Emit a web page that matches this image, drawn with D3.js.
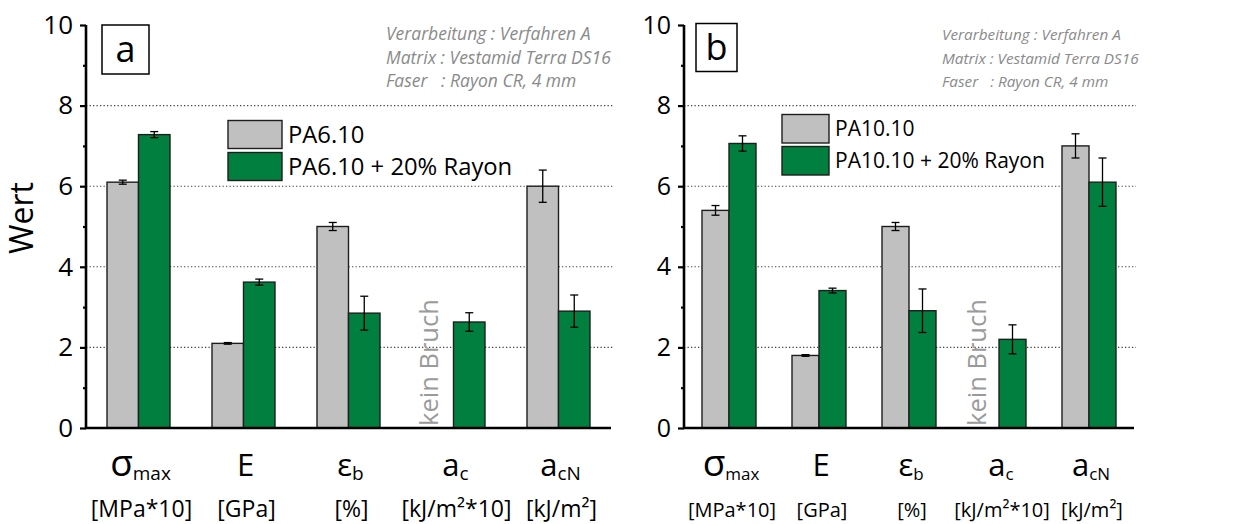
<!DOCTYPE html>
<html>
<head>
<meta charset="utf-8">
<script src="https://cdn.jsdelivr.net/npm/d3@7"></script>
<style>
  html, body { margin: 0; padding: 0; background: #fff; }
  svg { display: block; font-family: "Open Sans", "Noto Sans", sans-serif; }
</style>
</head>
<body>
<svg id="chart" width="1234" height="524"></svg>
<script>
// Property groups along the x axis
const categories = ["sigma", "E", "eps", "ac", "acN"];
const catSymbols = ["σ", "E", "ε", "a", "a"];
const catSubscripts = ["max", "", "b", "c", "cN"];
const catUnits = ["[MPa*10]", "[GPa]", "[%]", "[kJ/m²*10]", "[kJ/m²]"];

// Y ticks
const yMajorTicks = [0, 2, 4, 6, 8, 10];
const yMinorTicks = [1, 3, 5, 7, 9];
const gridTicks = [2, 4, 6, 8];

// Panel a: PA6.10 (null = no break, not measured)
const paA_names = ["PA6.10", "PA6.10 + 20% Rayon"];
const paA_base = [6.1, 2.1, 5.0, null, 6.0];
const paA_baseErr = [0.05, 0.02, 0.1, null, 0.4];
const paA_rayon = [7.28, 3.62, 2.85, 2.63, 2.9];
const paA_rayonErr = [0.075, 0.075, 0.42, 0.23, 0.4];

// Panel b: PA10.10
const paB_names = ["PA10.10", "PA10.10 + 20% Rayon"];
const paB_base = [5.4, 1.8, 5.0, null, 7.0];
const paB_baseErr = [0.12, 0.02, 0.1, null, 0.3];
const paB_rayon = [7.06, 3.41, 2.91, 2.2, 6.1];
const paB_rayonErr = [0.19, 0.06, 0.54, 0.36, 0.6];

const noteLines = ["Verarbeitung : Verfahren A", "Matrix : Vestamid Terra DS16", "Faser   : Rayon CR, 4 mm"];
const noBreakText = "kein Bruch";

const grayFill = "#c0c0c0";
const greenFill = "#007f3e";
const barStroke = "#1e1e1e";

const svg = d3.select("#chart");

const y = d3.scaleLinear().domain([0, 10]).range([428, 25]);

function drawPanel(p) {
  const g = svg.append("g");
  const x = d3.scaleBand().domain(categories).range([p.x0, p.x1]).padding(0);
  const bw = x.bandwidth();
  const f = p.font;

  // dotted grid lines
  g.selectAll(".grid").data(gridTicks).enter().append("line")
    .attr("x1", p.x0).attr("x2", p.x1 + 2)
    .attr("y1", d => y(d)).attr("y2", d => y(d))
    .attr("stroke", "#444").attr("stroke-width", 1.1)
    .attr("stroke-dasharray", "1.3,2.2");

  // bars
  const series = [
    { vals: p.base, errs: p.baseErr, fill: grayFill, off: 0.2 },
    { vals: p.rayon, errs: p.rayonErr, fill: greenFill, off: 0.5 }
  ];
  series.forEach(s => {
    const rows = categories.map((c, i) => ({ c, v: s.vals[i], e: s.errs[i] })).filter(r => r.v != null);
    g.selectAll(null).data(rows).enter().append("rect")
      .attr("x", r => x(r.c) + s.off * bw)
      .attr("width", 0.3 * bw)
      .attr("y", r => y(r.v))
      .attr("height", r => y(0) - y(r.v))
      .attr("fill", s.fill)
      .attr("stroke", barStroke).attr("stroke-width", 1.4);
    // error bars
    const eg = g.selectAll(null).data(rows).enter().append("g")
      .attr("stroke", "#000").attr("stroke-width", 1.3);
    const cx = r => x(r.c) + (s.off + 0.15) * bw;
    eg.append("line").attr("x1", cx).attr("x2", cx)
      .attr("y1", r => y(r.v + r.e)).attr("y2", r => y(r.v - r.e));
    eg.append("line").attr("x1", r => cx(r) - 4).attr("x2", r => cx(r) + 4)
      .attr("y1", r => y(r.v + r.e)).attr("y2", r => y(r.v + r.e));
    eg.append("line").attr("x1", r => cx(r) - 4).attr("x2", r => cx(r) + 4)
      .attr("y1", r => y(r.v - r.e)).attr("y2", r => y(r.v - r.e));
  });

  // "kein Bruch" where the base polymer did not break
  categories.forEach((c, i) => {
    if (p.base[i] == null) {
      const tx = x(c) + 0.35 * bw;
      g.append("text")
        .attr("transform", `translate(${tx},${y(0) - 2}) rotate(-90)`)
        .attr("text-anchor", "start")
        .attr("font-size", 25.5).attr("fill", "#9a9a9a")
        .text(noBreakText);
    }
  });

  // y axis: major ticks with labels, minor ticks without
  const yAxis = d3.axisLeft(y).tickValues(yMajorTicks).tickSize(6).tickPadding(7).tickFormat(d3.format("d"));
  const ya = g.append("g").attr("transform", `translate(${p.x0},0)`).call(yAxis);
  ya.select(".domain").attr("stroke-width", 2.6).attr("d", `M0,${y(10)}V${y(0)}`);
  ya.selectAll(".tick line").attr("stroke-width", 2.2);
  ya.selectAll(".tick text").attr("font-size", f.tick).attr("font-family", "'Open Sans', sans-serif").attr("fill", "#000");
  const yMinor = d3.axisLeft(y).tickValues(yMinorTicks).tickSize(3).tickFormat("");
  const ym = g.append("g").attr("transform", `translate(${p.x0},0)`).call(yMinor);
  ym.select(".domain").remove();
  ym.selectAll(".tick line").attr("stroke-width", 2.2);

  // x axis baseline
  const xAxis = d3.axisBottom(x).tickSize(0).tickFormat("");
  const xa = g.append("g").attr("transform", `translate(0,${y(0)})`).call(xAxis);
  xa.select(".domain").attr("stroke-width", 2.6).attr("d", `M${p.x0 - 1},0H${p.x1}`);

  // category symbols with subscripts, units below
  categories.forEach((c, i) => {
    const cx = x(c) + bw / 2 + 2;
    const t = g.append("text").attr("x", cx).attr("y", 476)
      .attr("text-anchor", "middle").attr("fill", "#000");
    t.append("tspan").attr("font-size", catSymbols[i] === "σ" ? 37 : 31).text(catSymbols[i]);
    if (catSubscripts[i]) {
      t.append("tspan").attr("font-size", f.sub).attr("dy", 4).text(catSubscripts[i]);
    }
    g.append("text").attr("x", cx + 1).attr("y", 517)
      .attr("text-anchor", "middle").attr("font-size", f.unit).attr("fill", "#000")
      .text(catUnits[i]);
  });

  // panel label box
  g.append("rect").attr("x", p.lab.x).attr("y", p.lab.y).attr("width", p.lab.w).attr("height", p.lab.h)
    .attr("fill", "#fff").attr("stroke", "#000").attr("stroke-width", 1.5);
  g.append("text").attr("x", p.lab.x + p.lab.w / 2).attr("y", p.lab.y + p.lab.h / 2 + 12)
    .attr("text-anchor", "middle").attr("font-size", 36).attr("fill", "#000").text(p.lab.text);

  // processing note
  noteLines.forEach((line, i) => {
    g.append("text").attr("x", p.noteX).attr("y", 40 + i * 23.5)
      .attr("font-size", f.note).attr("font-style", "italic").attr("fill", "#8a8a8a")
      .attr("xml:space", "preserve").style("white-space", "pre")
      .text(line);
  });

  // legend
  const fills = [grayFill, greenFill];
  p.names.forEach((name, i) => {
    const ly = p.leg.y + i * p.leg.step;
    g.append("rect").attr("x", p.leg.x).attr("y", ly).attr("width", p.leg.w).attr("height", p.leg.h)
      .attr("fill", fills[i]).attr("stroke", barStroke).attr("stroke-width", 1.4);
    g.append("text").attr("x", p.leg.x + p.leg.w + 6).attr("y", ly + p.leg.h / 2 + f.legend * 0.36)
      .attr("font-size", f.legend).attr("fill", "#000").text(name);
  });
}

drawPanel({
  x0: 86, x1: 611,
  names: paA_names, base: paA_base, baseErr: paA_baseErr, rayon: paA_rayon, rayonErr: paA_rayonErr,
  lab: { x: 102, y: 25, w: 47, h: 49, text: "a" },
  noteX: 386,
  leg: { x: 228, y: 120.5, w: 54, h: 28, step: 32 },
  font: { tick: 26, sub: 19, unit: 23, note: 17.5, legend: 23.8 }
});

drawPanel({
  x0: 684, x1: 1134,
  names: paB_names, base: paB_base, baseErr: paB_baseErr, rayon: paB_rayon, rayonErr: paB_rayonErr,
  lab: { x: 696, y: 23.5, w: 41, h: 48, text: "b" },
  noteX: 942,
  leg: { x: 782, y: 114.5, w: 47, h: 28.5, step: 32 },
  font: { tick: 25, sub: 17, unit: 20, note: 15.3, legend: 21 }
});

// y axis title (panel a only)
svg.append("text")
  .attr("transform", "translate(33,218) rotate(-90)")
  .attr("text-anchor", "middle").attr("font-size", 32).attr("fill", "#000")
  .text("Wert");
</script>
</body>
</html>
